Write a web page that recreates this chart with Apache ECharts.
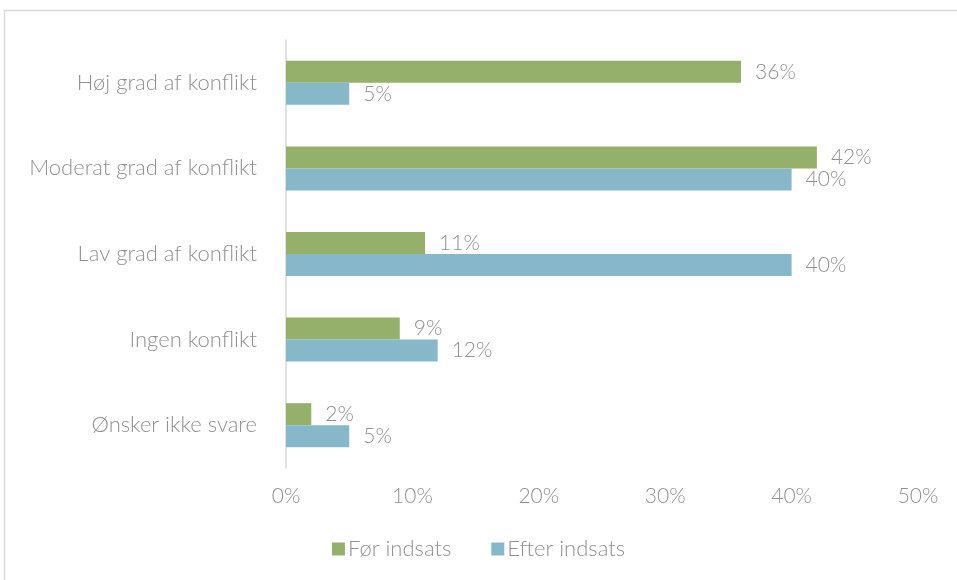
<!DOCTYPE html>
<html>
<head>
<meta charset="utf-8">
<script src="https://cdn.jsdelivr.net/npm/echarts@6/dist/echarts.min.js"></script>
<style>
html,body{margin:0;padding:0;background:#fff;}
#c{width:957px;height:580px;}
</style>
</head>
<body>
<div id="c"></div>
<script>
const categories = ["Høj grad af konflikt", "Moderat grad af konflikt", "Lav grad af konflikt", "Ingen konflikt", "Ønsker ikke svare"];
const seriesNames = ["Før indsats", "Efter indsats"];
const forValues = [36, 42, 11, 9, 2];
const efterValues = [5, 40, 40, 12, 5];
const xTicks = { min: 0, max: 50, interval: 10 };

const FONT = 'Lato';
const TXT = '#919191';
const chart = echarts.init(document.getElementById('c'), null, {renderer: 'canvas'});
const labelCfg = {
  show: true, position: 'right', distance: 14,
  formatter: '{c}%', color: TXT, fontFamily: FONT, fontWeight: 300, fontSize: 21
};
chart.setOption({
  animation: false,
  graphic: [{
    type: 'rect', silent: true, z: -1,
    shape: { x: 4.5, y: 10.5, width: 1200, height: 1200 },
    style: { fill: 'none', stroke: '#d9d9d9', lineWidth: 1.5 }
  }],
  grid: { left: 286, right: 39, top: 40, bottom: 112 },
  legend: {
    bottom: 15, left: 'center', itemWidth: 13, itemHeight: 13, itemGap: 40,
    icon: 'rect',
    textStyle: { color: TXT, fontFamily: FONT, fontWeight: 300, fontSize: 22, padding: [0,0,0,-2] },
    data: seriesNames
  },
  xAxis: {
    type: 'value', min: xTicks.min, max: xTicks.max, interval: xTicks.interval,
    axisLine: { show: false }, axisTick: { show: false }, splitLine: { show: false },
    axisLabel: { formatter: '{value}%', color: TXT, fontFamily: FONT, fontWeight: 300, fontSize: 21, margin: 18 }
  },
  yAxis: {
    type: 'category', data: categories, inverse: true,
    axisLine: { show: true, lineStyle: { color: '#d9d9d9', width: 1.5 } },
    axisTick: { show: false },
    axisLabel: { color: TXT, fontFamily: FONT, fontWeight: 300, fontSize: 22, margin: 29 }
  },
  series: [
    { name: seriesNames[0], type: 'bar', data: forValues, barWidth: 22, barGap: '0%',
      itemStyle: { color: '#94b06a' }, label: labelCfg },
    { name: seriesNames[1], type: 'bar', data: efterValues, barWidth: 22, barGap: '0%',
      itemStyle: { color: '#86b8ca' }, label: labelCfg }
  ]
});
</script>
</body>
</html>
